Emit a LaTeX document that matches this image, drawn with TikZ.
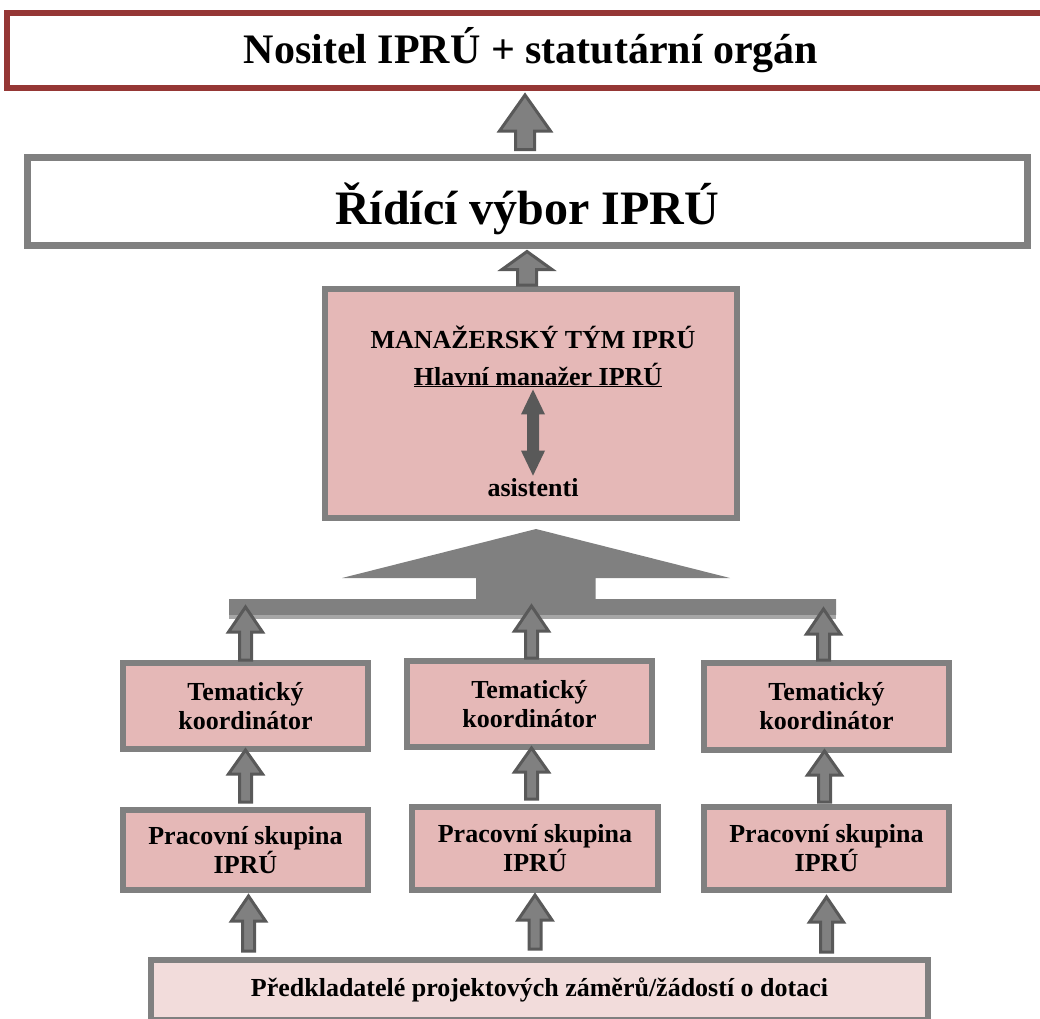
\documentclass[tikz,border=0pt]{standalone}
\usepackage{fontspec}
\setmainfont{Liberation Serif}
\usetikzlibrary{calc}
\definecolor{boxpink}{RGB}{229,184,183}
\definecolor{boxlight}{RGB}{242,220,219}
\definecolor{boxgray}{RGB}{128,128,128}
\definecolor{topred}{RGB}{149,55,53}
\definecolor{arrdark}{RGB}{89,89,89}
\definecolor{barlight}{RGB}{166,166,166}
\def\blockup(#1)(#2)(#3:#4:#5){\draw[blockarrow] let \p1=(#1), \p2=(#2) in (\x2,\y2) -- (\x2+#3,\y2-#5) -- (\x2+#4,\y2-#5) -- (\x2+#4,\y1) -- (\x2-#4,\y1) -- (\x2-#4,\y2-#5) -- (\x2-#3,\y2-#5) -- cycle;}
\tikzset{
  orgbox/.style={draw=boxgray, line width=6pt, fill=boxpink, align=center, inner sep=0pt, font=\bfseries\fontsize{26}{29}\selectfont},
  plain/.style={inner sep=0pt, font=\bfseries\fontsize{26}{29}\selectfont},
  blockarrow/.style={fill=boxgray, draw=arrdark, line width=3pt, line join=miter},
}

\begin{document}
\begin{tikzpicture}[x=1pt,y=-1pt]
			%%%%% START %%%%%
			\useasboundingbox (0,0) rectangle (1040,1018);
			
			\node[orgbox, draw=topred, fill=white, minimum width=1048pt, minimum height=75pt, font=\bfseries\fontsize{42}{46}\selectfont] (nos) at (531,50.5) {Nositel IPRÚ + statutární orgán};
			\node[orgbox, line width=7pt, fill=white, minimum width=1000pt, minimum height=88pt, text height=46pt, text depth=0pt, font=\bfseries\fontsize{48}{52}\selectfont] (rid) at (527,201) {Řídící výbor IPRÚ};
			
			\node[orgbox, minimum width=412pt, minimum height=229pt] (man) at (531,403.5) {};
			\node[plain] (mt) at (533,337) {MANAŽERSKÝ TÝM IPRÚ};
			\node[plain] (hm) at (538,375) {\underline{Hlavní manažer IPRÚ}};
			\node[plain] (as) at (533,488) {asistenti};
			
			\node[orgbox, minimum width=245pt, minimum height=86pt] (tk1) at (245.5,706) {Tematický\\koordinátor};
			\node[orgbox, minimum width=245pt, minimum height=86pt] (tk2) at (529.5,704) {Tematický\\koordinátor};
			\node[orgbox, minimum width=245pt, minimum height=87pt] (tk3) at (826.5,706.5) {Tematický\\koordinátor};
			
			\node[orgbox, minimum width=245pt, minimum height=80pt] (pr1) at (245.5,850) {Pracovní skupina\\IPRÚ};
			\node[orgbox, minimum width=246pt, minimum height=83pt] (pr2) at (535,848.5) {Pracovní skupina\\IPRÚ};
			\node[orgbox, minimum width=245pt, minimum height=83pt] (pr3) at (826.5,848.5) {Pracovní skupina\\IPRÚ};
			
			\node[orgbox, fill=boxlight, minimum width=777pt, minimum height=60pt] (pd) at (539.5,990) {Předkladatelé projektových záměrů/žádostí o dotaci};
			
			% sbiehajici sipka
			\fill[boxgray] (536,529) -- (730,578) -- (595.5,578) -- (595.5,599) -- (836,599) -- (836,615) -- (229,615) -- (229,599) -- (476,599) -- (476,578) -- (342,578) -- cycle;
			\fill[barlight] (229,615) rectangle (836,619);
			
			\blockup([yshift=4pt]rid.north)([xshift=-6pt,yshift=-4pt]nos.south)(25.5pt:9.5pt:36pt);
			\blockup([yshift=1pt]man.north)([yshift=-3pt]rid.south)(25pt:9.5pt:18pt);
			
			\draw[fill=arrdark, draw=none] let \p1=([yshift=-2pt]hm.south), \p2=([yshift=3pt]as.north) in (\x2,\y1) -- (\x2+12pt,\y1-25pt) -- (\x2+6pt,\y1-25pt) -- (\x2+6pt,\y2+25pt) -- (\x2+12pt,\y2+25pt) -- (\x2,\y2) -- (\x2-12pt,\y2+25pt) -- (\x2-6pt,\y2+25pt) -- (\x2-6pt,\y1-25pt) -- (\x2-12pt,\y1-25pt) -- cycle;
			
			\blockup(tk1.north)([yshift=53pt]tk1.north)(17pt:6pt:25pt);
			\blockup(tk2.north)([xshift=2pt,yshift=52pt]tk2.north)(17pt:6pt:25pt);
			\blockup(tk3.north)([xshift=-3pt,yshift=51pt]tk3.north)(17pt:6pt:25pt);
			
			\blockup([yshift=5pt]pr1.north)([yshift=2pt]tk1.south)(17pt:6pt:24pt);
			\blockup([yshift=5pt]pr2.north)([xshift=2pt,yshift=2pt]tk2.south)(17pt:6pt:24pt);
			\blockup([yshift=2pt]pr3.north)([xshift=-2pt,yshift=2pt]tk3.south)(17pt:6pt:24pt);
			
			\blockup([yshift=6pt]pd.north)([xshift=3pt,yshift=-3pt]pr1.south)(17pt:6pt:25pt);
			\blockup([yshift=8pt]pd.north)([yshift=-2pt]pr2.south)(17pt:6pt:25pt);
			\blockup([yshift=5pt]pd.north)([yshift=-4pt]pr3.south)(17pt:6pt:25pt);
			
			%%%%% END %%%%%
\end{tikzpicture}
\end{document}
